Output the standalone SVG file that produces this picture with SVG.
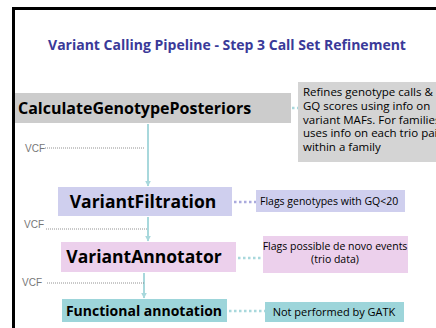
<svg xmlns="http://www.w3.org/2000/svg" width="436" height="328" viewBox="0 0 436 328">
<defs>
<style>
.t{font-family:"Open Sans","Liberation Sans",sans-serif;fill:#000}
.title{font-family:"Open Sans","Liberation Sans",sans-serif;font-weight:bold;font-size:14px;fill:#3a3a99}
.big{font-weight:bold;font-size:17.5px}
.small{font-size:10.5px}
.note{font-size:11.5px}
.vcf{font-family:"Liberation Sans",sans-serif;font-size:10px;fill:#777}
.arrow{stroke:#a8d8dc;stroke-width:2;fill:none}
.vdot{stroke:#777;stroke-width:0.8;stroke-dasharray:1 1;fill:none}
.cdot{stroke-width:2.5;stroke-dasharray:2.5 2.5;fill:none}
</style>
<marker id="ah" viewBox="0 0 10 10" refX="9" refY="5" markerWidth="3" markerHeight="3" orient="auto">
<path d="M0,0 L10,5 L0,10 z" fill="#a8d8dc"/>
</marker>
</defs>
<rect width="436" height="328" fill="#fff"/>
<path d="M13.5,328 V8.5 H436" stroke="#000" stroke-width="3" fill="none"/>
<text class="title" x="227" y="50" text-anchor="middle">Variant Calling Pipeline - Step 3 Call Set Refinement</text>

<g id="connectors">
<line class="arrow" x1="148" y1="124" x2="148" y2="186" marker-end="url(#ah)"/>
<line class="arrow" x1="148" y1="217" x2="148" y2="241" marker-end="url(#ah)"/>
<line class="arrow" x1="144" y1="273" x2="144" y2="298" marker-end="url(#ah)"/>
<line class="cdot" x1="292" y1="108" x2="298" y2="108" stroke="#a8d8dc" stroke-width="1" stroke-dasharray="1 1"/>
<line class="cdot" x1="234" y1="202" x2="256" y2="202" stroke="#aaaadd"/>
<line class="cdot" x1="238" y1="258" x2="262" y2="258" stroke="#a8d8dc"/>
<line class="cdot" x1="229" y1="311" x2="265" y2="311" stroke="#a8d8dc"/>
<line class="vdot" x1="45" y1="148" x2="145" y2="148"/>
<line class="vdot" x1="46" y1="229" x2="147" y2="229"/>
<line class="vdot" x1="47" y1="283" x2="145" y2="283"/>
<text class="vcf" x="25" y="152">VCF</text>
<text class="vcf" x="24" y="228">VCF</text>
<text class="vcf" x="22" y="286">VCF</text>
</g>

<g id="node-cgp">
<rect x="15" y="93" width="276" height="30" fill="#cccccc"/>
<text class="t" x="18" y="114" font-weight="bold" font-size="16">CalculateGenotypePosteriors</text>
</g>
<g id="note-cgp">
<rect x="298" y="82" width="140" height="80" fill="#d4d4d4"/>
<text class="t note" x="303" y="96">Refines genotype calls &amp;</text>
<text class="t note" x="303" y="109.75">GQ scores using info on</text>
<text class="t note" x="303" y="123.5">variant MAFs. For families</text>
<text class="t note" x="303" y="137.25">uses info on each trio pair</text>
<text class="t note" x="303" y="151">within a family</text>
</g>

<g id="node-vf">
<rect x="58" y="187" width="174" height="29" fill="#cfcfee"/>
<text class="t big" x="143" y="208" text-anchor="middle">VariantFiltration</text>
</g>
<g id="note-vf">
<rect x="256" y="190" width="149" height="22" fill="#cfcfee"/>
<text class="t small" x="260" y="205">Flags genotypes with GQ&lt;20</text>
</g>

<g id="node-va">
<rect x="61" y="242" width="175" height="30" fill="#ecd0ec"/>
<text class="t big" x="144" y="263" text-anchor="middle">VariantAnnotator</text>
</g>
<g id="note-va">
<rect x="263" y="236" width="145" height="37" fill="#ecd0ec"/>
<text class="t small" x="335" y="250" text-anchor="middle">Flags possible de novo events</text>
<text class="t small" x="335" y="263" text-anchor="middle">(trio data)</text>
</g>

<g id="node-fa">
<rect x="62" y="299" width="165" height="23" fill="#9dd5da"/>
<text class="t" x="144" y="315.5" text-anchor="middle" font-weight="bold" font-size="14">Functional annotation</text>
</g>
<g id="note-fa">
<rect x="265" y="302" width="139" height="20" fill="#9dd5da"/>
<text class="t" x="334" y="316" text-anchor="middle" font-size="11">Not performed by GATK</text>
</g>
</svg>
